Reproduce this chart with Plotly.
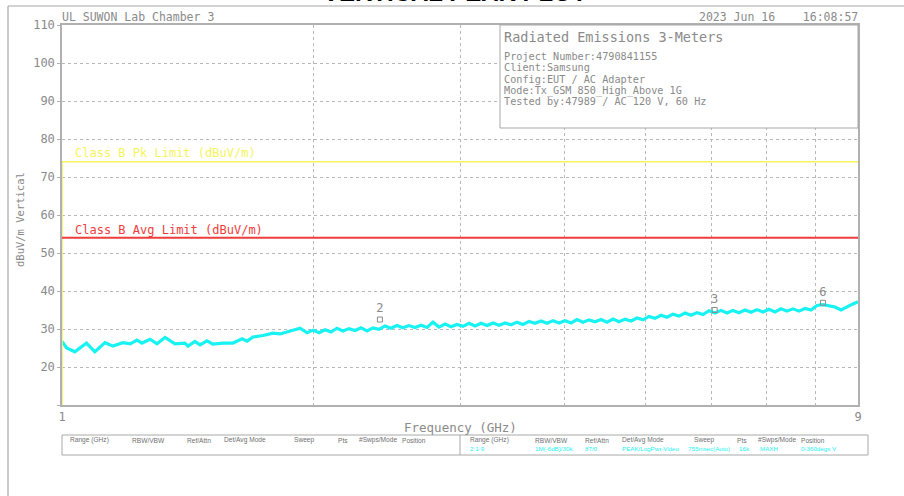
import math
import plotly.graph_objects as go

# ---------------- data ----------------
freq_ghz = [1.000, 1.013, 1.036, 1.056, 1.070, 1.095, 1.126, 1.151, 1.183, 1.207,
            1.230, 1.247, 1.275, 1.300, 1.329, 1.366, 1.404, 1.416, 1.443, 1.464,
            1.492, 1.517, 1.560, 1.603, 1.644, 1.667, 1.694, 1.742, 1.790, 1.825,
            1.876, 1.929, 1.967,
            2.000, 2.033, 2.067, 2.101, 2.136, 2.172, 2.208, 2.245, 2.283, 2.321,
            2.359, 2.399, 2.439, 2.479, 2.521, 2.563, 2.606, 2.649, 2.694, 2.739,
            2.785, 2.831, 2.879, 2.927, 2.975, 3.025, 3.076, 3.127, 3.180, 3.233,
            3.287, 3.342, 3.397, 3.454, 3.512, 3.570, 3.630, 3.690, 3.752, 3.815,
            3.878, 3.943, 4.009, 4.076, 4.144, 4.213, 4.283, 4.355, 4.428, 4.501,
            4.577, 4.653, 4.731, 4.810, 4.890, 4.972, 5.055, 5.139, 5.225, 5.312,
            5.401, 5.491, 5.583, 5.676, 5.770, 5.867, 5.965, 6.065, 6.166, 6.269,
            6.373, 6.480, 6.588, 6.698, 6.810, 6.923, 7.039, 7.157, 7.276, 7.398,
            7.521, 7.647, 7.775, 7.905, 8.037, 8.171, 8.307, 8.446, 8.587, 8.730,
            8.876, 9.000]
level_dbuv = [26.7, 25.0, 24.0, 25.3, 26.3, 24.0, 26.4, 25.5, 26.4, 26.1,
              27.1, 26.3, 27.3, 26.1, 27.8, 26.1, 26.3, 25.5, 26.7, 25.8,
              26.9, 26.0, 26.3, 26.3, 27.4, 26.8, 27.9, 28.3, 28.9, 28.7,
              29.5, 30.2, 29.0,
              29.7, 29.0, 29.8, 29.2, 30.2, 29.5, 30.1, 29.6, 30.3, 29.5,
              30.3, 29.9, 30.8, 30.2, 30.9, 30.3, 30.9, 30.4, 31.0, 30.4,
              31.8, 30.5, 31.3, 30.6, 31.2, 30.7, 31.5, 30.8, 31.5, 30.9,
              31.6, 31.0, 31.6, 31.1, 31.8, 31.2, 32.0, 31.5, 32.1, 31.5,
              32.2, 31.6, 32.2, 31.6, 32.5, 31.8, 32.4, 31.9, 32.5, 31.8,
              32.6, 31.9, 32.6, 32.1, 32.9, 32.4, 33.3, 32.8, 33.6, 33.1,
              33.9, 33.4, 34.2, 33.6, 34.3, 33.8, 34.8, 34.2, 34.9, 34.2,
              34.9, 34.3, 35.0, 34.4, 35.1, 34.5, 35.2, 34.5, 35.3, 34.7,
              35.3, 34.7, 35.4, 35.0, 36.2, 36.4, 36.0, 35.8, 35.0, 35.9,
              36.6, 37.2]

pk_limit = 74.0
avg_limit = 54.0

marker_ids = ["2", "3", "6"]
marker_freq = [2.405, 6.06, 8.17]
marker_level = [32.5, 35.0, 36.9]

y_ticks = [10, 20, 30, 40, 50, 60, 70, 80, 90, 100, 110]
x_ticks = [1, 2, 3, 4, 5, 6, 7, 8, 9]

info_title = "Radiated Emissions 3-Meters"
info_lines = ["Project Number:4790841155", "Client:Samsung", "Config:EUT / AC Adapter",
              "Mode:Tx_GSM 850_High_Above 1G", "Tested by:47989 / AC 120 V, 60 Hz"]

tbl_headers = ["Range (GHz)", "RBW/VBW", "Ref/Attn", "Det/Avg Mode", "Sweep", "Pts",
               "#Swps/Mode", "Position"]
tbl_values = ["2:1-9", "1M(-6dB)/30k", "87/0", "PEAK/LogPwr-Video", "755msec(Auto)",
              "16k", "MAXH", "0-360degs V"]

# ---------------- layout constants ----------------
W, H = 904, 496
L, R, T, B = 62, 46, 25, 91
PW, PH = W - L - R, H - T - B

def px(xp):
    return (xp - L) / PW

def py(yp):
    return (H - B - yp) / PH

MONO = "DejaVu Sans Mono"
GREY = "#8a8a8a"
CYAN = "#19f2f2"
YEL = "#f5f55a"
RED = "#f03c3c"

fig = go.Figure()

fig.add_trace(go.Scatter(x=freq_ghz, y=level_dbuv, mode="lines",
                         line=dict(color=CYAN, width=3.2), hoverinfo="skip"))
fig.add_trace(go.Scatter(x=[x_ticks[0], x_ticks[0], x_ticks[-1]],
                         y=[y_ticks[0], pk_limit, pk_limit], mode="lines",
                         line=dict(color=YEL, width=1.6), hoverinfo="skip"))
fig.add_trace(go.Scatter(x=[x_ticks[0], x_ticks[-1]], y=[avg_limit, avg_limit], mode="lines",
                         line=dict(color=RED, width=2), hoverinfo="skip"))
fig.add_trace(go.Scatter(x=marker_freq, y=marker_level, mode="markers+text",
                         text=marker_ids, textposition="top center",
                         textfont=dict(family=MONO, size=12, color=GREY),
                         marker=dict(symbol="square-open", size=5, color=GREY,
                                     line=dict(width=1, color=GREY)),
                         hoverinfo="skip"))

fig.update_layout(
    width=W, height=H, margin=dict(l=L, r=R, t=T, b=B),
    paper_bgcolor="white", plot_bgcolor="white", showlegend=False,
    font=dict(family=MONO, color=GREY, size=11),
)
fig.update_xaxes(type="log", range=[0, math.log10(x_ticks[-1])],
                 tickvals=x_ticks,
                 ticktext=[str(v) if v in (x_ticks[0], x_ticks[-1]) else "" for v in x_ticks],
                 showgrid=True, gridcolor="#b8b8b8", griddash="dot", gridwidth=1,
                 showline=True, linecolor="#b0b0b0", linewidth=1.5, mirror=True,
                 ticks="", tickfont=dict(family=MONO, size=12, color=GREY), zeroline=False)
fig.update_yaxes(range=[y_ticks[0], y_ticks[-1]], tickvals=y_ticks,
                 ticktext=["" if v == y_ticks[0] else str(v) for v in y_ticks],
                 showgrid=True, gridcolor="#b8b8b8", griddash="dot", gridwidth=1,
                 showline=True, linecolor="#b0b0b0", linewidth=1.5, mirror=True,
                 ticks="outside", ticklen=3, tickcolor="#b0b0b0",
                 tickfont=dict(family=MONO, size=12, color=GREY), zeroline=False)

shapes = []
# info box
shapes.append(dict(type="rect", xref="paper", yref="paper", x0=px(500), x1=1.0,
                   y0=py(128), y1=1.0, fillcolor="white", line=dict(color="#a8a8a8", width=1),
                   layer="above"))
# outer frame
shapes.append(dict(type="line", xref="paper", yref="paper", x0=px(8), x1=px(8),
                   y0=py(6), y1=py(500), line=dict(color="#a8a8a8", width=1.2)))
shapes.append(dict(type="line", xref="paper", yref="paper", x0=px(8), x1=px(906),
                   y0=py(6), y1=py(6), line=dict(color="#a8a8a8", width=1.2)))
# bottom table box
shapes.append(dict(type="rect", xref="paper", yref="paper", x0=px(62), x1=px(868),
                   y0=py(455), y1=py(435), line=dict(color="#a8a8a8", width=1)))
shapes.append(dict(type="line", xref="paper", yref="paper", x0=px(460), x1=px(460),
                   y0=py(455), y1=py(435), line=dict(color="#a8a8a8", width=1)))
fig.update_layout(shapes=shapes)

ann = []
def text(xp, yp, s, size=11, color=GREY, xanchor="left", family=MONO, **kw):
    ann.append(dict(xref="paper", yref="paper", x=px(xp), y=py(yp), text=s,
                    showarrow=False, xanchor=xanchor, yanchor="middle",
                    font=dict(family=family, size=size, color=color), **kw))

text(455, -7, "<b>VERTICAL PEAK PLOT</b>", size=24, color="black", xanchor="center",
     family="Liberation Sans")
text(60, 17, "UL SUWON Lab Chamber 3", size=11.5)
text(860, 17, "2023 Jun 16    16:08:57", size=11.5, xanchor="right")
text(502, 37, info_title, size=13.5)
for i, s in enumerate(info_lines):
    text(502, 56 + i * 11.5, s, size=10.2)
text(73, 153, "Class B Pk Limit (dBuV/m)", size=12, color=YEL)
text(73, 230, "Class B Avg Limit (dBuV/m)", size=12, color=RED)
text(460, 427, "Frequency (GHz)", size=12.5, xanchor="center")
text(20, 220, "dBuV/m Vertical", size=10.5, xanchor="center", textangle=-90)

left_x = [68, 130, 185, 222, 292, 336, 357, 400]
right_x = [468, 533, 583, 620, 692, 735, 756, 799]
value_x = [468, 533, 583, 620, 686, 737, 758, 799]
for xx, h in zip(left_x, tbl_headers):
    text(xx, 440, h, size=6.6, color="#707070", family="Liberation Sans")
for xx, h in zip(right_x, tbl_headers):
    text(xx, 440, h, size=6.6, color="#707070", family="Liberation Sans")
for xx, v in zip(value_x, tbl_values):
    text(xx, 449, v, size=6.2, color=CYAN, family="Liberation Sans")

fig.update_layout(annotations=ann)
fig.write_html("out.html")
